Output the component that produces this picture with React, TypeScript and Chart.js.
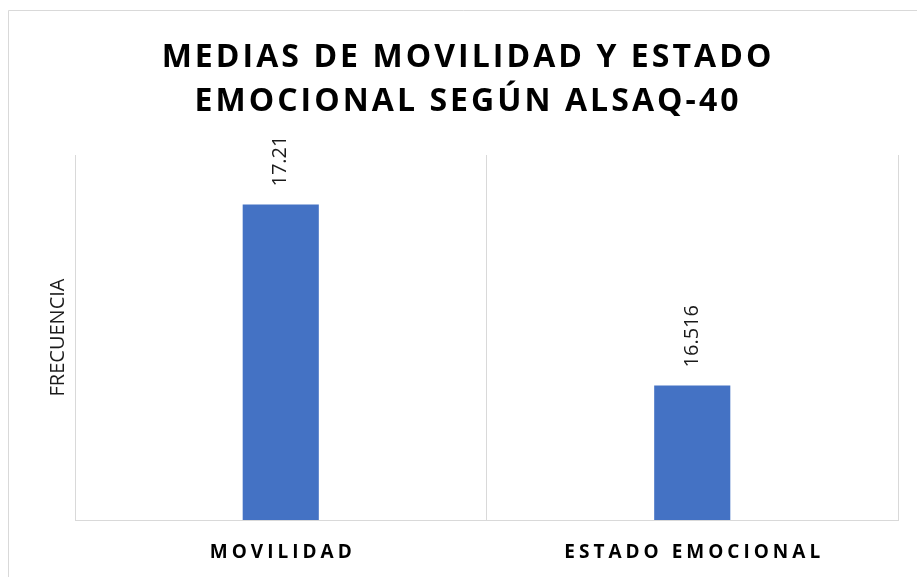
import { useEffect, useRef } from 'react';
import { Chart, registerables } from 'chart.js';

Chart.register(...registerables);

const categories = ['MOVILIDAD', 'ESTADO EMOCIONAL'];
const values = [17.21, 16.516];
const valueLabels = ['17.21', '16.516'];
const titleLines = ['MEDIAS DE MOVILIDAD Y ESTADO', 'EMOCIONAL SEGÚN ALSAQ-40'];
const yAxisTitle = 'FRECUENCIA';
const yMin = 16;
const yMax = 17.4;

function drawSpaced(ctx: CanvasRenderingContext2D, text: string, cx: number, y: number, spacing: number) {
  ctx.letterSpacing = '0px';
  const w0 = ctx.measureText(text).width;
  const n = Array.from(text).length;
  const total = w0 + spacing * (n - 1);
  ctx.letterSpacing = spacing + 'px';
  ctx.textAlign = 'left';
  ctx.fillText(text, cx - total / 2, y);
  ctx.letterSpacing = '0px';
}

const textPlugin = {
  id: 'customText',
  beforeDraw(chart: any) {
    const ctx = chart.ctx as CanvasRenderingContext2D;
    ctx.save();
    ctx.fillStyle = '#ffffff';
    ctx.fillRect(0, 0, chart.width, chart.height);
    ctx.strokeStyle = '#d9d9d9';
    ctx.lineWidth = 1;
    ctx.beginPath();
    ctx.moveTo(8.5, chart.height + 5);
    ctx.lineTo(8.5, 10.5);
    ctx.lineTo(chart.width + 5, 10.5);
    ctx.stroke();
    ctx.restore();
  },
  afterDatasetsDraw(chart: any) {
    const ctx = chart.ctx as CanvasRenderingContext2D;
    const meta = chart.getDatasetMeta(0);
    ctx.save();
    ctx.fillStyle = '#1a1a1a';
    ctx.font = '20px "Open Sans"';
    ctx.textAlign = 'left';
    ctx.textBaseline = 'middle';
    meta.data.forEach((bar: any, i: number) => {
      ctx.save();
      ctx.translate(bar.x, bar.y - 18);
      ctx.rotate(-Math.PI / 2);
      ctx.fillText(valueLabels[i], 0, 0);
      ctx.restore();
    });
    ctx.restore();
  },
  afterDraw(chart: any) {
    const ctx = chart.ctx as CanvasRenderingContext2D;
    const area = chart.chartArea;
    ctx.save();
    // title
    ctx.fillStyle = '#000000';
    ctx.textBaseline = 'alphabetic';
    ctx.font = 'bold 32px "Open Sans"';
    const cx = (chart.width + 16) / 2;
    drawSpaced(ctx, titleLines[0], cx, 67, 3.05);
    drawSpaced(ctx, titleLines[1], cx, 111, 3.05);
    // category labels
    ctx.font = 'bold 19px "Open Sans"';
    const xScale = chart.scales.x;
    categories.forEach((c, i) => {
      drawSpaced(ctx, c, xScale.getPixelForValue(i), 558, 4);
    });
    // y axis title
    ctx.font = '20px "Open Sans"';
    ctx.fillStyle = '#1a1a1a';
    ctx.textAlign = 'center';
    ctx.textBaseline = 'middle';
    ctx.translate(58, (area.top + area.bottom) / 2);
    ctx.rotate(-Math.PI / 2);
    ctx.fillText(yAxisTitle, 0, 0);
    ctx.restore();
  },
};

export default function App() {
  const canvasRef = useRef<HTMLCanvasElement | null>(null);

  useEffect(() => {
    const canvas = canvasRef.current;
    if (!canvas) return;
    const chart = new Chart(canvas, {
      type: 'bar',
      data: {
        labels: categories,
        datasets: [
          {
            data: values,
            backgroundColor: '#4472C4',
            borderWidth: 0,
            categoryPercentage: 1,
            barPercentage: 0.185,
          },
        ],
      },
      options: {
        responsive: false,
        animation: false,
        devicePixelRatio: 1,
        layout: { padding: { left: 75, right: 19, top: 155, bottom: 57 } },
        plugins: {
          legend: { display: false },
          title: { display: false },
          tooltip: { enabled: false },
        },
        scales: {
          x: {
            grid: {
              display: true,
              offset: true,
              color: '#d9d9d9',
              lineWidth: 1,
              drawTicks: false,
              tickLength: 0,
            },
            border: { display: true, color: '#d9d9d9', width: 1 },
            ticks: { display: false },
          },
          y: {
            display: false,
            min: yMin,
            max: yMax,
          },
        },
      },
      plugins: [textPlugin],
    });
    return () => chart.destroy();
  }, []);

  return (
    <div style={{ position: 'fixed', left: 0, top: 0, width: 917, height: 577, background: '#fff' }}>
      <canvas ref={canvasRef} width={917} height={577} style={{ display: 'block' }} />
    </div>
  );
}
